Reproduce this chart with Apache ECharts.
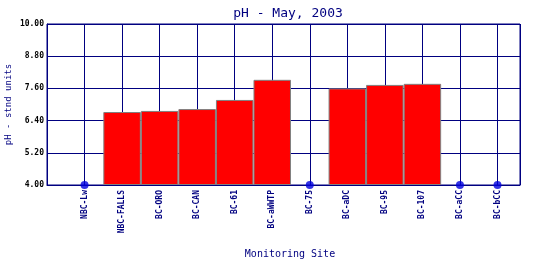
<!DOCTYPE html>
<html>
<head>
<meta charset="utf-8">
<script src="https://cdn.jsdelivr.net/npm/echarts@6/dist/echarts.min.js"></script>
<style>html,body{margin:0;padding:0;background:#fff}#c{width:540px;height:260px}</style>
</head>
<body>
<div id="c"></div>
<script>
var categories = ['NBC-Lw','NBC-FALLS','BC-ORO','BC-CAN','BC-61','BC-aWWTP','BC-75','BC-aDC','BC-95','BC-107','BC-aCC','BC-bCC'];
var phValues = [null, 6.72, 6.76, 6.83, 7.17, 7.92, null, 7.60, 7.73, 7.77, null, null];
var missingMarkers = [4.00, null, null, null, null, null, 4.00, null, null, null, 4.00, 4.00];
var yTicks = [4.00, 5.20, 6.40, 7.60, 8.80, 10.00];
var BASE = yTicks[0];
var NAVY = '#000080';
var FONT = 'DejaVu Sans Mono';

var barData = [], dotData = [];
categories.forEach(function (c, i) {
  if (phValues[i] != null) barData.push([i + 1, phValues[i] - BASE]);
  if (missingMarkers[i] != null) dotData.push([i + 1, missingMarkers[i] - BASE]);
});

var chart = echarts.init(document.getElementById('c'));
chart.setOption({
  animation: false,
  backgroundColor: '#fff',
  title: {
    text: 'pH - May, 2003', left: 283, top: 2, textAlign: 'center',
    textStyle: { fontFamily: FONT, fontSize: 13, fontWeight: 'normal', color: NAVY }
  },
  grid: { left: 47, right: 20, top: 24, bottom: 75, containLabel: false, outerBoundsMode: 'none',
          show: true, borderColor: NAVY, borderWidth: 1 },
  xAxis: {
    type: 'value', min: 0, max: 12.6, interval: 1,
    name: 'Monitoring Site', nameLocation: 'middle', nameGap: 64, nameMoveOverlap: false,
    nameTextStyle: { fontFamily: FONT, fontSize: 10, color: NAVY, padding: [0, 0, 0, 13] },
    axisLine: { show: true, lineStyle: { color: NAVY, width: 1 } },
    axisTick: { show: false },
    splitLine: { show: true, lineStyle: { color: NAVY, width: 1 } },
    axisLabel: {
      rotate: 90, margin: 5, showMaxLabel: false, showMinLabel: false,
      fontFamily: FONT, fontSize: 8, fontWeight: 'bold', color: NAVY,
      formatter: function (v) { return categories[Math.round(v) - 1] || ''; }
    }
  },
  yAxis: {
    type: 'value', min: 0, max: yTicks[yTicks.length - 1] - BASE, interval: yTicks[1] - yTicks[0],
    name: 'pH - stnd units', nameLocation: 'middle', nameGap: 34, nameMoveOverlap: false,
    nameTextStyle: { fontFamily: FONT, fontSize: 9, color: NAVY },
    axisLine: { show: true, lineStyle: { color: NAVY, width: 1 } },
    axisTick: { show: false },
    splitLine: { show: true, lineStyle: { color: NAVY, width: 1 } },
    axisLabel: {
      margin: 3, fontFamily: FONT, fontSize: 8, fontWeight: 'bold', color: '#000',
      formatter: function (v) { return (v + BASE).toFixed(2); }
    }
  },
  series: [
    {
      type: 'bar', data: barData, barWidth: 37.5,
      itemStyle: { color: '#ff0000', borderColor: '#808080', borderWidth: 1 }
    },
    {
      type: 'scatter', data: dotData, symbol: 'circle', symbolSize: 8, clip: false, z: 5,
      itemStyle: { color: '#0000dd' }
    }
  ]
});
</script>
</body>
</html>
